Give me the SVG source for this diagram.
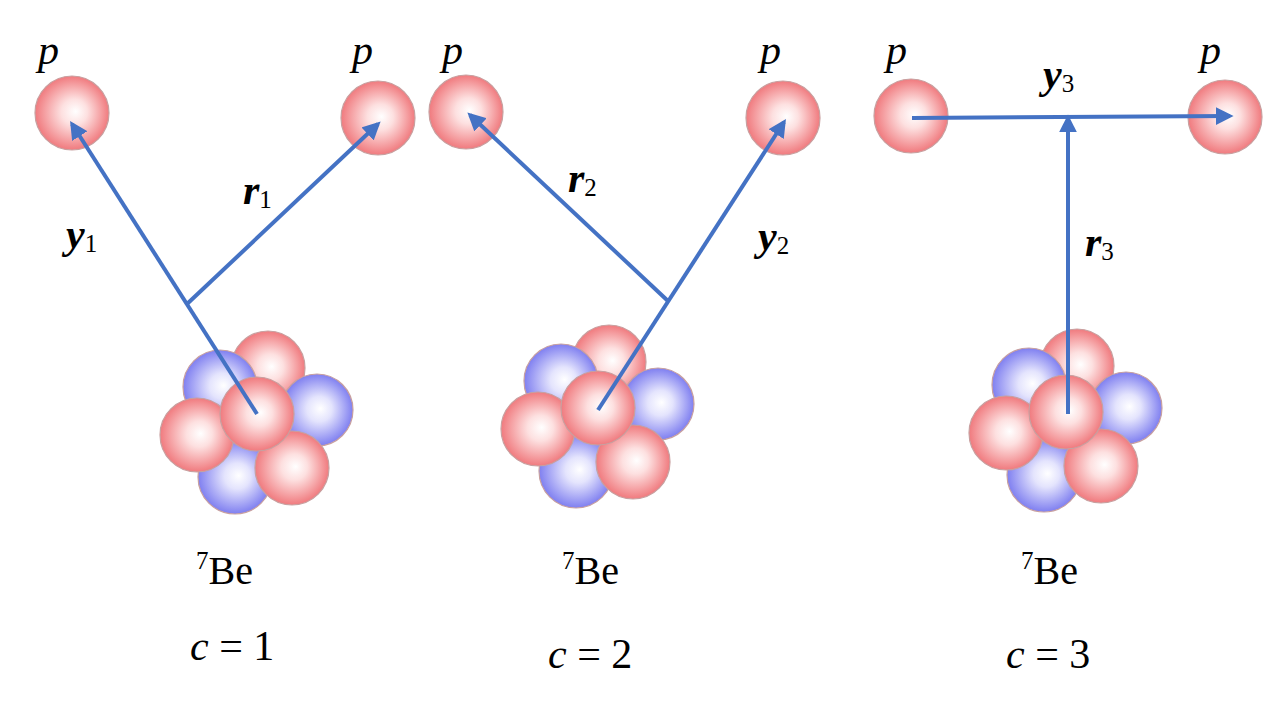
<svg xmlns="http://www.w3.org/2000/svg" width="1280" height="720" viewBox="0 0 1280 720">
<defs>
<radialGradient id="gr" cx="0.5" cy="0.5" r="0.5" fx="0.55" fy="0.48"><stop offset="0" stop-color="#ffffff"/><stop offset="0.35" stop-color="#fde0e0"/><stop offset="1" stop-color="#f07a7e"/></radialGradient>
<radialGradient id="gb" cx="0.5" cy="0.5" r="0.5" fx="0.55" fy="0.48"><stop offset="0" stop-color="#ffffff"/><stop offset="0.35" stop-color="#e4e4fd"/><stop offset="1" stop-color="#7f7ff0"/></radialGradient>
<marker id="ah" viewBox="0 0 10 10" refX="8" refY="5" markerWidth="4.5" markerHeight="4.5" orient="auto"><path d="M0,0 L10,5 L0,10 z" fill="#4472c4"/></marker>
<g id="cluster">
<circle cx="11" cy="-46" r="37" fill="url(#gr)"/>
<circle cx="-37" cy="-27" r="37" fill="url(#gb)"/>
<circle cx="60" cy="-4" r="36" fill="url(#gb)"/>
<circle cx="-22" cy="63" r="37" fill="url(#gb)"/>
<circle cx="-60" cy="21" r="37" fill="url(#gr)"/>
<circle cx="35" cy="54" r="37" fill="url(#gr)"/>
<circle cx="0" cy="0" r="37" fill="url(#gr)"/>
</g>
</defs>
<style>
circle{stroke:#c8a0a0;stroke-width:1.2}
.ln{stroke:#4472c4;stroke-width:4;fill:none}
.ar{marker-end:url(#ah)}
text, tspan{font-family:"Liberation Serif","DejaVu Serif","Times New Roman",serif !important}
.p{font-style:italic;font-size:42px}
.v{font-style:italic;font-weight:bold;font-size:42px}
.s{font-size:25px;font-style:normal;font-weight:normal}
.be{font-size:40px}
.c{font-size:42px}
</style>
<g id="protons">
<circle cx="72" cy="113" r="37" fill="url(#gr)"/>
<circle cx="378" cy="118" r="37" fill="url(#gr)"/>
<circle cx="466" cy="112" r="37" fill="url(#gr)"/>
<circle cx="783" cy="118" r="37" fill="url(#gr)"/>
<circle cx="911" cy="116" r="37" fill="url(#gr)"/>
<circle cx="1225" cy="117" r="37" fill="url(#gr)"/>
</g>
<g id="nucleus1"><use href="#cluster" x="257" y="414"/></g>
<g id="nucleus2"><use href="#cluster" x="598" y="408"/></g>
<g id="nucleus3"><use href="#cluster" x="1066" y="412"/></g>
<g id="connectors">
<line class="ln ar" x1="257" y1="414" x2="72" y2="124"/>
<line class="ln ar" x1="187" y1="304" x2="378" y2="124"/>
<line class="ln ar" x1="598" y1="410" x2="784" y2="122"/>
<line class="ln ar" x1="668" y1="301" x2="470" y2="115"/>
<line class="ln ar" x1="1068" y1="414" x2="1068" y2="118"/>
<line class="ln ar" x1="912" y1="118" x2="1230" y2="116"/>
</g>
<g id="labels" fill="#000">
<text class="p" x="38" y="64">p</text>
<text class="p" x="352" y="64">p</text>
<text class="p" x="442" y="64">p</text>
<text class="p" x="760" y="64">p</text>
<text class="p" x="886" y="64">p</text>
<text class="p" x="1200" y="64">p</text>
<text class="v" x="66" y="248">y<tspan class="s" dy="4">1</tspan></text>
<text class="v" x="243" y="204">r<tspan class="s" dy="4">1</tspan></text>
<text class="v" x="568" y="192">r<tspan class="s" dy="4">2</tspan></text>
<text class="v" x="758" y="250">y<tspan class="s" dy="4">2</tspan></text>
<text class="v" x="1043" y="88">y<tspan class="s" dy="4">3</tspan></text>
<text class="v" x="1085" y="256">r<tspan class="s" dy="4">3</tspan></text>
<text class="be" x="196" y="584"><tspan font-size="25" dy="-15">7</tspan><tspan dy="15">Be</tspan></text>
<text class="be" x="562" y="584"><tspan font-size="25" dy="-15">7</tspan><tspan dy="15">Be</tspan></text>
<text class="be" x="1021" y="584"><tspan font-size="25" dy="-15">7</tspan><tspan dy="15">Be</tspan></text>
<text class="c" x="190" y="660"><tspan font-style="italic">c</tspan> = 1</text>
<text class="c" x="548" y="668"><tspan font-style="italic">c</tspan> = 2</text>
<text class="c" x="1006" y="668"><tspan font-style="italic">c</tspan> = 3</text>
</g>
</svg>
